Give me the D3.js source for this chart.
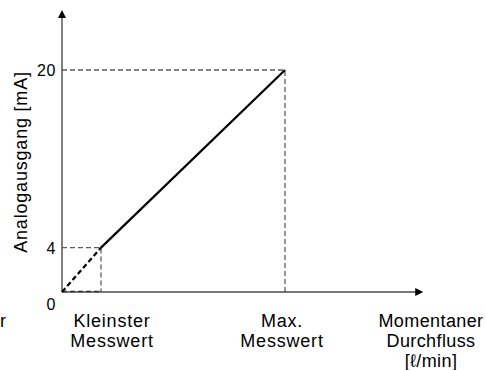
<!DOCTYPE html>
<html>
<head>
<meta charset="utf-8">
<script src="https://cdn.jsdelivr.net/npm/d3@7"></script>
<style>
  html, body { margin: 0; padding: 0; background: #fff; }
  svg { display: block; }
  text { font-family: "Liberation Sans", Arial, Helvetica, sans-serif; fill: #000; }
</style>
</head>
<body>
<svg id="chart" width="486" height="370"></svg>
<script>
// Flow in percent of the maximum measuring value, and the analog output in mA
const flowPercent = [0, 17.5, 100];
const outputMA = [0, 4, 20];
const yTickValues = [0, 4, 20];
const yTickLabels = ["0", "4", "20"];
const xMarkFlow = [17.5, 100];
const xMarkLabels = [["Kleinster", "Messwert"], ["Max.", "Messwert"]];
const xAxisTitle = ["Momentaner", "Durchfluss", "[\u2113/min]"];
const yAxisTitle = "Analogausgang [mA]";
const edgeLabel = ["r"];

const svg = d3.select("#chart");
const x = d3.scaleLinear().domain([0, 100]).range([62, 285]);
const y = d3.scaleLinear().domain([0, 20]).range([292, 70]);

const axisColor = "#4a4a4a";
const guideColor = "#5c5c5c";

const xEnd = x(162);   // end of the flow axis
const yEnd = 10;       // top of the output axis

// guide lines for each reference point
const pts = flowPercent.map((f, i) => ({ f, v: outputMA[i] })).filter(d => d.f > 0);
const guides = svg.append("g")
  .attr("fill", "none")
  .attr("stroke", guideColor)
  .attr("stroke-width", 1.3)
  .attr("stroke-dasharray", "5,3");
pts.forEach(d => {
  guides.append("path").attr("d", d3.line()([[x(0), y(d.v)], [x(d.f), y(d.v)], [x(d.f), y(0)]]));
});

// axes
svg.append("line")
  .attr("x1", x(0)).attr("y1", y(0)).attr("x2", xEnd - 6).attr("y2", y(0))
  .attr("stroke", axisColor).attr("stroke-width", 1.4);
svg.append("line")
  .attr("x1", x(0)).attr("y1", y(0)).attr("x2", x(0)).attr("y2", yEnd + 6)
  .attr("stroke", axisColor).attr("stroke-width", 1.4);
svg.append("path")
  .attr("d", `M${xEnd},${y(0)} L${xEnd - 8},${y(0) - 4} L${xEnd - 8},${y(0) + 4} Z`)
  .attr("fill", "#000");
svg.append("path")
  .attr("d", `M${x(0)},${yEnd} L${x(0) - 4},${yEnd + 8} L${x(0) + 4},${yEnd + 8} Z`)
  .attr("fill", "#000");

// dashed segment near the origin along the flow axis
svg.append("line")
  .attr("x1", x(0)).attr("y1", y(0) - 0.5).attr("x2", x(flowPercent[1])).attr("y2", y(0) - 0.5)
  .attr("stroke", "#333").attr("stroke-width", 1.6).attr("stroke-dasharray", "5,3");

// characteristic: dashed below the smallest measuring value, solid above
const line = d3.line().x(d => x(d.f)).y(d => y(d.v));
const data = flowPercent.map((f, i) => ({ f, v: outputMA[i] }));
svg.append("path")
  .datum(data.slice(0, 2))
  .attr("d", line)
  .attr("fill", "none").attr("stroke", "#000").attr("stroke-width", 2.2)
  .attr("stroke-dasharray", "5,3");
svg.append("path")
  .datum(data.slice(1))
  .attr("d", line)
  .attr("fill", "none").attr("stroke", "#000").attr("stroke-width", 2.2);

// output tick labels
svg.append("g").selectAll("text")
  .data(yTickValues)
  .join("text")
  .attr("x", 56)
  .attr("y", d => d === 0 ? 310 : y(d) + 6)
  .attr("text-anchor", "end")
  .attr("font-size", 16)
  .attr("letter-spacing", 0.6)
  .text((d, i) => yTickLabels[i]);

// flow labels
function multiLine(lines, cx, top, spacing) {
  const t = svg.append("text")
    .attr("text-anchor", "middle")
    .attr("font-size", 18)
    .attr("letter-spacing", spacing);
  lines.forEach((s, i) => {
    t.append("tspan").attr("x", cx).attr("y", top + i * 20).text(s);
  });
}
multiLine(xMarkLabels[0], x(xMarkFlow[0]) + 11, 327, 0.8);
multiLine(xMarkLabels[1], x(xMarkFlow[1]) - 3, 327, 0.8);
multiLine(xAxisTitle, 431, 327, 0.4);
multiLine(edgeLabel, 3, 327, 0);

// output axis title
svg.append("text")
  .attr("transform", "translate(27,162) rotate(-90)")
  .attr("text-anchor", "middle")
  .attr("font-size", 18)
  .attr("letter-spacing", 0.8)
  .text(yAxisTitle);
</script>
</body>
</html>
